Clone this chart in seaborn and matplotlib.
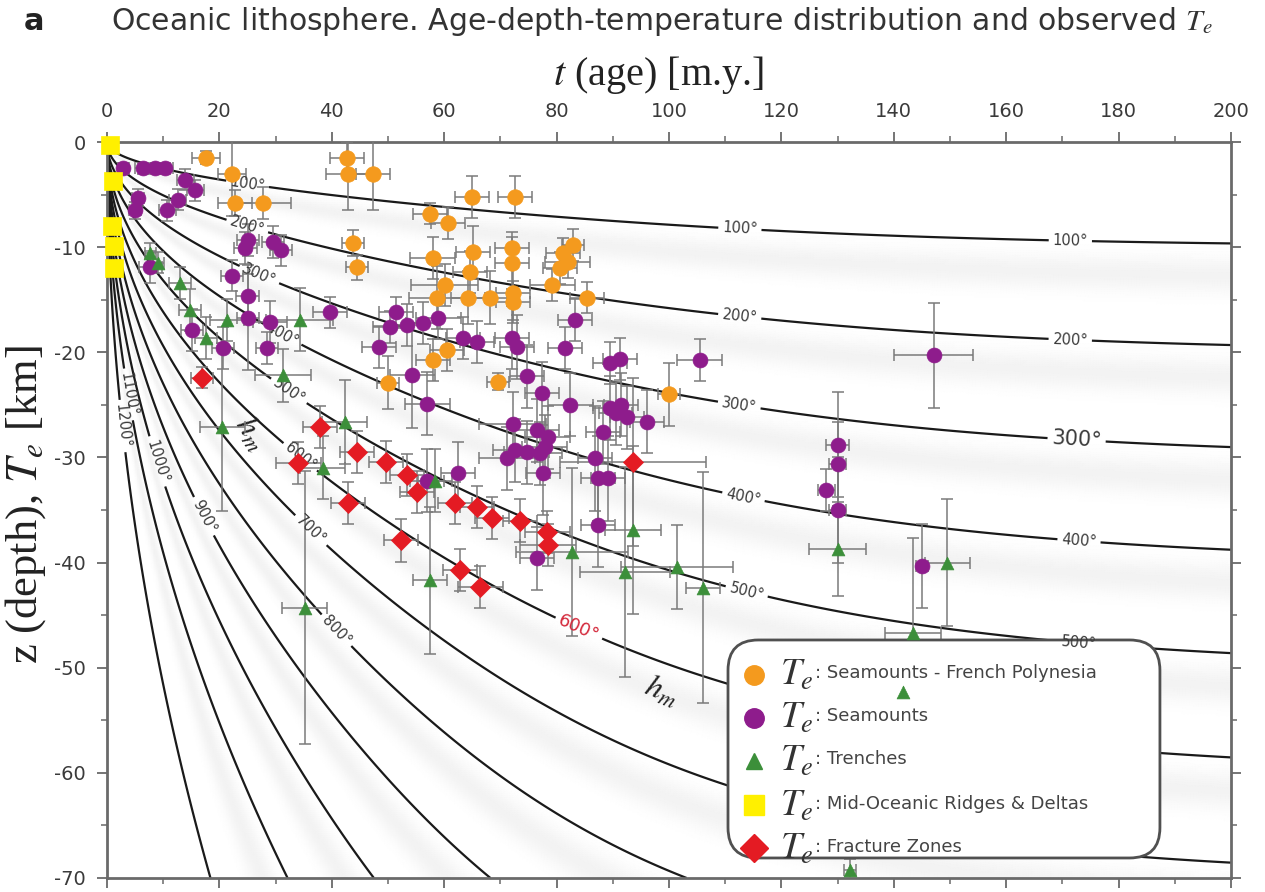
import numpy as np
import pandas as pd
import matplotlib
matplotlib.use("Agg")
import matplotlib.pyplot as plt
import seaborn as sns
from matplotlib.patches import FancyBboxPatch
from matplotlib.ticker import MultipleLocator

# ---------------- data ----------------
# Te: Seamounts - French Polynesia (orange circles)
fp_age = [17.6, 22.2, 22.8, 27.8, 42.7, 42.9, 47.3, 43.8, 44.5, 65.0, 72.6, 57.5, 60.7,
          58.0, 65.1, 72.1, 72.1, 64.6, 60.1, 58.7, 64.2, 68.1, 72.2, 72.2, 82.9, 81.1,
          82.0, 80.6, 79.2, 85.4, 60.5, 58.0, 69.6, 50.0, 100.0]
fp_te = [-1.5, -3.0, -5.8, -5.8, -1.5, -3.0, -3.0, -9.6, -11.9, -5.2, -5.2, -6.8, -7.7,
         -11.0, -10.5, -10.1, -11.5, -12.4, -13.6, -14.8, -14.8, -14.8, -14.4, -15.2, -9.8, -10.6,
         -11.4, -12.0, -13.6, -14.8, -19.8, -20.7, -22.8, -22.9, -24.0]
fp_age_err = [2.5, 2.5, 3.0, 5.0, 3.0, 4.0, 3.0, 2.0, 2.0, 3.0, 3.0, 3.0, 3.0,
              4.0, 3.0, 3.0, 3.0, 3.0, 6.0, 5.0, 3.0, 3.0, 3.0, 3.0, 2.0, 3.0,
              4.0, 3.0, 4.0, 3.0, 3.0, 3.0, 2.0, 2.0, 2.0]
fp_te_err = [0.6, 4.0, 1.2, 1.5, 1.5, 3.5, 3.5, 1.2, 1.2, 2.0, 2.0, 1.0, 1.5,
             2.0, 2.5, 1.5, 2.5, 2.0, 2.0, 3.0, 2.5, 2.5, 2.5, 2.0, 1.5, 1.5,
             1.5, 1.5, 1.5, 1.5, 2.0, 2.0, 0.8, 2.5, 3.0]

# Te: Seamounts (purple circles)
sm_age = [2.9, 6.4, 8.5, 10.3, 13.9, 15.7, 5.5, 5.0, 12.6, 10.7,
          25.1, 24.6, 29.5, 31.0, 22.2, 25.0, 25.1, 29.0, 15.1, 20.6, 28.5, 7.7,
          39.7, 51.4, 50.4, 48.4, 53.4, 56.2, 58.9, 63.3, 65.8, 72.1, 73.0, 83.3, 81.5,
          89.5, 91.3, 105.5, 54.3, 74.7, 77.4, 57.0, 82.4, 89.5, 91.5, 92.5, 90.5, 96.1,
          72.2, 76.5, 78.4, 88.3, 71.2, 72.6, 74.7, 77.0, 77.9, 77.6, 86.8, 87.4, 89.2,
          87.4, 76.5, 62.5, 56.9, 130.0, 130.0, 128.0, 130.0, 147.1, 145.0]
sm_te = [-2.5, -2.5, -2.5, -2.5, -3.6, -4.6, -5.3, -6.5, -5.5, -6.5,
         -9.3, -10.1, -9.5, -10.3, -12.7, -14.6, -16.7, -17.1, -17.9, -19.6, -19.6, -11.9,
         -16.2, -16.2, -17.6, -19.5, -17.4, -17.2, -16.7, -18.6, -19.0, -18.6, -19.5, -16.9, -19.6,
         -21.0, -20.6, -20.7, -22.2, -22.3, -23.9, -24.9, -25.0, -25.3, -25.0, -26.2, -25.8, -26.6,
         -26.8, -27.4, -28.1, -27.6, -30.1, -29.3, -29.5, -29.6, -29.0, -31.5, -30.1, -32.0, -32.0,
         -36.4, -39.6, -31.5, -32.2, -28.8, -30.6, -33.1, -35.0, -20.3, -40.3]
sm_age_err = [1, 1.5, 1.5, 1.5, 1.5, 1.5, 1, 1, 1.5, 1.5,
              2, 2, 2, 2, 2, 2, 2, 3, 2, 2, 2, 2,
              3, 3, 3, 3, 3, 3, 4, 3, 3, 3, 3, 3, 3,
              3, 3, 4, 4, 3, 3, 4, 4, 3, 3, 3, 3, 3,
              6, 4, 4, 3, 5, 4, 4, 4, 4, 3, 3, 3, 3,
              3, 3, 3, 3, 2, 1.5, 1.5, 1.5, 7, 1]
sm_te_err = [0.5, 0.5, 0.5, 0.5, 1, 1, 0.8, 0.8, 1, 1,
             1.5, 1.5, 1.5, 1.5, 1.5, 2, 5, 2, 2, 2, 1.5, 1.5,
             1.5, 1.5, 1.5, 2, 2, 2, 2, 2, 2, 3, 3, 2, 2,
             2, 2, 2, 5, 3, 3, 3, 3, 3, 3, 3, 3, 3,
             3, 3, 3, 3, 3, 3, 3, 3, 3, 4, 5, 4, 4,
             4, 3, 3, 3, 5, 4, 2, 5, 5, 4]

# Te: Trenches (green triangles)
tr_age = [7.7, 9.1, 13.0, 14.8, 17.6, 21.4, 34.3, 31.3, 20.5, 42.3, 38.4, 35.2, 58.4, 57.5,
          82.7, 93.6, 92.2, 101.4, 106.0, 130.0, 149.5, 143.4, 141.7, 132.2]
tr_te = [-10.6, -11.5, -13.4, -16.0, -18.6, -16.9, -16.9, -22.2, -27.1, -26.6, -31.0, -44.3, -32.2, -41.7,
         -39.0, -36.9, -40.9, -40.4, -42.4, -38.7, -40.0, -46.7, -52.3, -69.2]
tr_age_err = [1, 1, 2, 2, 2, 3, 6, 5, 4, 4, 4, 4, 3, 3,
              10, 5, 8, 10, 3, 5, 4, 5, 1, 1]
tr_te_err = [1, 1, 1.5, 2, 2, 2, 3, 2.5, 8, 4, 3, 13, 3, 7,
             8, 8, 10, 4, 11, 4.5, 6, 9, 1, 1]

# Te: Mid-Oceanic Ridges & Deltas (yellow squares)
mor_age = [0.6, 1.0, 0.8, 1.3, 1.3]
mor_te = [-0.3, -3.7, -8.0, -9.9, -12.0]

# Te: Fracture Zones (red diamonds)
fz_age = [16.9, 37.9, 44.5, 49.6, 34.0, 42.9, 52.3, 53.4, 55.2, 61.9, 65.8, 68.5, 73.5,
          78.3, 78.5, 62.8, 66.4, 93.6]
fz_te = [-22.4, -27.1, -29.5, -30.4, -30.5, -34.3, -37.9, -31.7, -33.3, -34.3, -34.7, -35.8, -36.0,
         -37.1, -38.3, -40.7, -42.3, -30.4]
fz_age_err = [2, 3, 3, 3, 4, 3, 3, 3, 3, 3, 3, 3, 3, 4, 5, 3, 4, 13]
fz_te_err = [1, 2, 2, 2, 2, 2, 2, 2, 2, 2, 2, 2, 2, 2, 2, 2, 2, 8]

# isotherm background: plate cooling model parameters
plate_thickness_km = 125.0
mantle_temp = 1250.0
diffusivity = 1.0e-6
isotherm_levels = [100, 200, 300, 400, 500, 600, 700, 800, 900, 1000, 1100, 1200]

x_ticks = [0, 20, 40, 60, 80, 100, 120, 140, 160, 180, 200]
y_ticks = [0, -10, -20, -30, -40, -50, -60, -70]

legend_labels = [": Seamounts - French Polynesia", ": Seamounts", ": Trenches",
                 ": Mid-Oceanic Ridges & Deltas", ": Fracture Zones"]

# ---------------- styling ----------------
sns.set_theme(style="white")
plt.rcParams["font.family"] = ["DejaVu Sans"]
plt.rcParams["mathtext.fontset"] = "stix"
plt.rcParams["axes.unicode_minus"] = False

C_OR = "#F49A1E"
C_PU = "#8E1C8C"
C_GR = "#3C8F3A"
C_YE = "#FFF000"
C_RE = "#E41B23"
FRAME = "#6a6a6a"
TXT = "#3a3a3a"

fig = plt.figure(figsize=(12.65, 8.92), dpi=100)
ax = fig.add_axes([0.0846, 0.0157, 0.8885, 0.8251])
ax.set_xlim(0, 200)
ax.set_ylim(-70, 0)

# ---------------- temperature field ----------------
ages = np.concatenate([np.linspace(0.02, 2.0, 120), np.linspace(2.1, 200.0, 700)])
depths = np.linspace(0.0, 70.0, 351)
a = plate_thickness_km * 1000.0
tsec = ages * 1e6 * 365.25 * 24 * 3600
zz = depths * 1000.0
n = np.arange(1, 1201)
S = np.sin(np.outer(zz, n) * np.pi / a)
E = (2.0 / np.pi) / n[:, None] * np.exp(-np.outer(n ** 2, tsec) * np.pi ** 2 * diffusivity / a ** 2)
T = mantle_temp * (zz[:, None] / a + S @ E)

frac = (T / 100.0) % 1.0
shade = 0.10 * np.exp(-((frac - 0.32) / 0.17) ** 2)
shade[(T < 100) | (T > 1200)] = 0.0
ax.pcolormesh(ages, -depths, shade, cmap="Greys", vmin=0, vmax=1, shading="gouraud",
              zorder=0, rasterized=True)

fmt = lambda v: f"{v:.0f}°"
label_spots = {
    100: [(24.9, -4.4), (112.6, -8.4), (171.4, -9.8)],
    200: [(24.9, -8.1), (112.6, -16.5), (171.4, -18.8)],
    300: [(27.2, -12.5), (112.6, -24.7)],
    400: [(31.1, -18.4), (113.5, -33.1), (173.1, -36.9)],
    500: [(33.1, -23.1), (114.4, -41.5), (173.1, -46.0)],
    600: [(34.9, -29.6)],
    700: [(37.4, -36.3)],
    800: [(42.7, -45.5)],
    900: [(18.3, -35.3)],
    1000: [(9.4, -30.3)],
    1100: [(3.9, -24.0)],
    1200: [(3.0, -27.0)],
}
all_labels = []
for lev in isotherm_levels:
    cs = ax.contour(ages, -depths, T, levels=[lev], colors="k", linewidths=1.6, zorder=2)
    all_labels += ax.clabel(cs, manual=label_spots[lev], inline=True, fmt=fmt, fontsize=10.5,
                            colors=TXT, inline_spacing=4)
    if lev == 300:
        all_labels += ax.clabel(cs, manual=[(172.6, -27.7)], inline=True, fmt=fmt, fontsize=15,
                                colors=TXT, inline_spacing=4)
    if lev == 600:
        all_labels += ax.clabel(cs, manual=[(85.0, -45.0)], inline=True, fmt=fmt, fontsize=13,
                                colors="#d42a3c", inline_spacing=4)
for t in all_labels:
    t.set_zorder(4.5)

ax.text(25.6, -27.7, "$h_m$", fontsize=23, rotation=-58, ha="center", va="center", color="#222", zorder=3)
ax.text(98.6, -52.3, "$h_m$", fontsize=23, rotation=-22, ha="center", va="center", color="#222", zorder=3)

# ---------------- error bars ----------------
eb = dict(fmt="none", ecolor="#7a7a7a", elinewidth=1.1, capsize=4, capthick=1.1, zorder=3)
ax.errorbar(fp_age, fp_te, xerr=fp_age_err, yerr=fp_te_err, **eb)
ax.errorbar(sm_age, sm_te, xerr=sm_age_err, yerr=sm_te_err, **eb)
ax.errorbar(tr_age, tr_te, xerr=tr_age_err, yerr=tr_te_err, **eb)
ax.errorbar(fz_age, fz_te, xerr=fz_age_err, yerr=fz_te_err, **eb)

# ---------------- legend box ----------------
box = FancyBboxPatch((0.5525, 0.0272), 0.3843, 0.2962,
                     boxstyle="round,pad=0,rounding_size=0.027", mutation_aspect=1124 / 736,
                     transform=ax.transAxes, facecolor="white", edgecolor="#505050",
                     linewidth=2, zorder=4)
ax.add_patch(box)

# ---------------- markers ----------------
sns.scatterplot(x=fp_age, y=fp_te, ax=ax, color=C_OR, marker="o", s=125, edgecolor=C_OR,
                linewidth=0.5, zorder=5, legend=False)
sns.scatterplot(x=sm_age, y=sm_te, ax=ax, color=C_PU, marker="o", s=115, edgecolor=C_PU,
                linewidth=0.5, zorder=5, legend=False)
sns.scatterplot(x=tr_age, y=tr_te, ax=ax, color=C_GR, marker="^", s=85, edgecolor=C_GR,
                linewidth=0.5, zorder=5, legend=False, clip_on=False)
sns.scatterplot(x=mor_age, y=mor_te, ax=ax, color=C_YE, marker="s", s=150, edgecolor=C_YE,
                linewidth=0.5, zorder=6, legend=False, clip_on=False)
sns.scatterplot(x=fz_age, y=fz_te, ax=ax, color=C_RE, marker="D", s=105, edgecolor=C_RE,
                linewidth=0.5, zorder=5, legend=False)

rows = [0.2764, 0.2179, 0.1595, 0.0986, 0.0401]
handles = [("o", C_OR, 14), ("o", C_PU, 14), ("^", C_GR, 11), ("s", C_YE, 15), ("D", C_RE, 14)]
for (mk, col, ms), yy, lab in zip(handles, rows, legend_labels):
    ax.plot([0.5756], [yy], marker=mk, color=col, markersize=ms, markeredgecolor=col,
            linestyle="none", transform=ax.transAxes, zorder=6, clip_on=False)
    ax.text(0.5985, yy, "$T_e$", transform=ax.transAxes, fontsize=27, color="#333",
            va="center", ha="left", zorder=6)
    ax.text(0.6300, yy + 0.002, lab, transform=ax.transAxes, fontsize=13, color="#444",
            va="center", ha="left", zorder=6)

# ---------------- axes ----------------
ax.set_xlim(0, 200)
ax.set_ylim(-70, 0)
ax.set_xticks(x_ticks)
ax.set_yticks(y_ticks)
ax.xaxis.set_minor_locator(MultipleLocator(10))
ax.yaxis.set_minor_locator(MultipleLocator(5))
ax.tick_params(axis="x", which="both", top=True, bottom=True, labeltop=True, labelbottom=False,
               direction="out", colors=FRAME, labelcolor=TXT, labelsize=14, pad=8)
ax.tick_params(axis="y", which="both", left=True, right=True, labelleft=True, labelright=False,
               direction="out", colors=FRAME, labelcolor=TXT, labelsize=14, pad=8)
ax.tick_params(which="major", length=7, width=1.3)
ax.tick_params(which="minor", length=4, width=1.1)
for sp in ax.spines.values():
    sp.set_color(FRAME)
    sp.set_linewidth(2)
ax.set_xlabel("")
ax.set_ylabel("")

fig.text(0.0190, 0.9755, "a", fontsize=22, fontweight="bold", color="#222", va="center")
fig.text(0.088, 0.9755, "Oceanic lithosphere. Age-depth-temperature distribution and observed $T_e$",
         fontsize=21.5, color="#333", va="center", ha="left")
fig.text(0.521, 0.916, "$t$ (age) [m.y.]", fontsize=29, family="Liberation Serif", color="#222",
         ha="center", va="center")
fig.text(0.020, 0.434, "z (depth), $T_e$ [km]", fontsize=32, family="Liberation Serif", color="#222",
         ha="center", va="center", rotation=90)

fig.savefig("out.png", dpi=100)
